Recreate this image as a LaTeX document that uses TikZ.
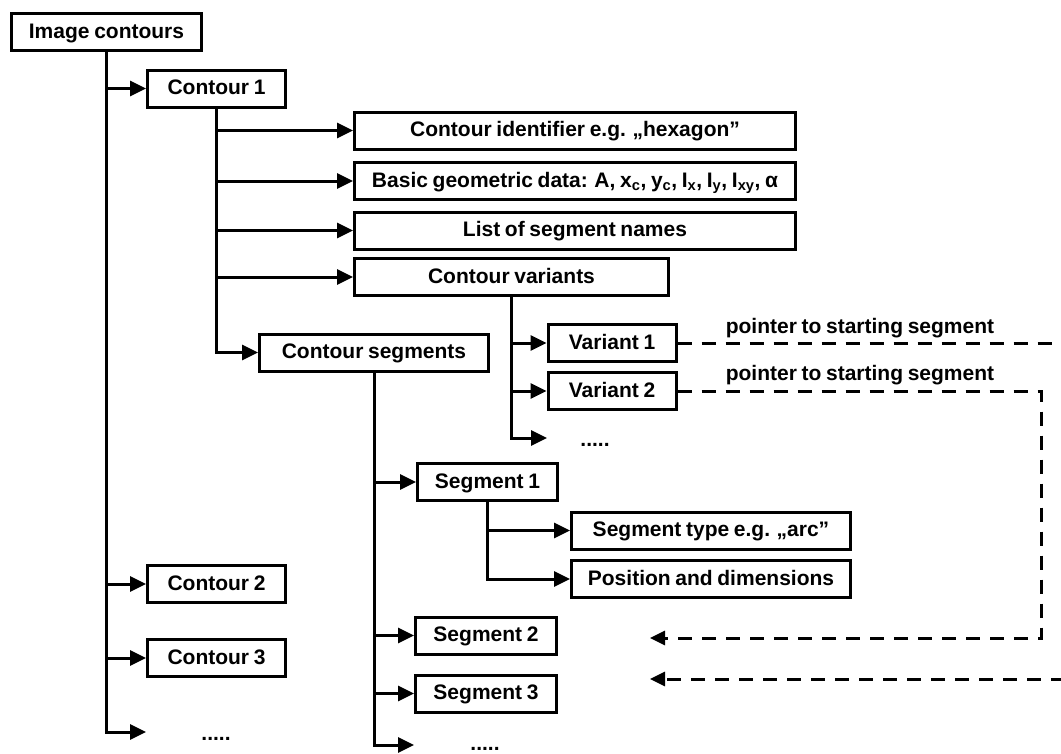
\documentclass[tikz,border=0pt]{standalone}
\usepackage{fontspec}
\setmainfont{Liberation Sans}[WordSpace=0.8]
\usetikzlibrary{arrows.meta}
\begin{document}
\begin{tikzpicture}[x=1pt,y=-1pt,
  box/.style={draw, line width=3pt, inner sep=0pt, minimum height=37pt,
    text height=14pt, text depth=2pt,
    font=\fontsize{21}{24}\selectfont\bfseries},
  lbl/.style={inner sep=0pt, font=\fontsize{21}{24}\selectfont\bfseries},
  link/.style={line width=3pt, -{Triangle[length=16pt,width=15pt]}},
  ptr/.style={line width=3pt, dash pattern=on 14pt off 10pt,
    -{Triangle[length=15pt,width=14pt]}},
]
\useasboundingbox (0,0) rectangle (1061,753);

% top level
\node[box, minimum width=190pt] (img) at (106.5,32) {Image contours};
\node[box, minimum width=138pt] (c1) at (216.5,88.5) {Contour 1};
\node[box, minimum width=138pt] (c2) at (216.5,584) {Contour 2};
\node[box, minimum width=138pt] (c3) at (216.5,658) {Contour 3};
\coordinate (dCend) at (146,732);
\node[lbl, anchor=base] (dC) at (216,740) {.....};

% contour data
\node[box, minimum width=441pt] (cid) at (575,130.5) {Contour identifier e.g. „hexagon”};
\node[box, minimum width=441pt] (bgd) at (575,181)
  {Basic geometric data: A, x\textsubscript{c}, y\textsubscript{c}, I\textsubscript{x}, I\textsubscript{y}, I\textsubscript{xy}, α};
\node[box, minimum width=441pt] (lsn) at (575,230.5) {List of segment names};
\node[box, minimum width=314pt] (cv) at (511.5,277) {Contour variants};
\node[box, minimum width=229pt] (cs) at (374,352.5) {Contour segments};

% variants
\node[box, minimum width=128pt] (v1) at (612,343) {Variant 1};
\node[box, minimum width=128pt] (v2) at (612,391) {Variant 2};
\coordinate (dVend) at (547,438);
\node[lbl, anchor=base] (dV) at (595,446) {.....};
\node[lbl, anchor=base] (l1) at (860,333) {pointer to starting segment};
\node[lbl, anchor=base] (l2) at (860,380) {pointer to starting segment};

% segments
\node[box, minimum width=140pt] (s1) at (487.5,482) {Segment 1};
\node[box, minimum width=279pt] (st) at (711,530.5) {Segment type e.g. „arc”};
\node[box, minimum width=279pt] (pd) at (711,579) {Position and dimensions};
\node[box, minimum width=141pt] (s2) at (486,635.5) {Segment 2};
\node[box, minimum width=141pt] (s3) at (486,693.5) {Segment 3};
\coordinate (dSend) at (414,745);
\node[lbl, anchor=base] (dS) at (485,750) {.....};

% tree connectors
\draw[link] (img.south |- c1.west) -- (c1.west);
\draw[link] (img.south |- c2.west) -- (c2.west);
\draw[link] (img.south |- c3.west) -- (c3.west);
\draw[link] (img.south) |- (dCend);

\draw[link] (c1.south |- cid.west) -- (cid.west);
\draw[link] (c1.south |- bgd.west) -- (bgd.west);
\draw[link] (c1.south |- lsn.west) -- (lsn.west);
\draw[link] (c1.south |- cv.west) -- (cv.west);
\draw[link] (c1.south) |- (cs.west);

\draw[link] (cv.south |- v1.west) -- (v1.west);
\draw[link] (cv.south |- v2.west) -- (v2.west);
\draw[link] (cv.south) |- (dVend);

\draw[link] (cs.south |- s1.west) -- (s1.west);
\draw[link] (cs.south |- s2.west) -- (s2.west);
\draw[link] (cs.south |- s3.west) -- (s3.west);
\draw[link] (cs.south) |- (dSend);

\draw[link] (s1.south |- st.west) -- (st.west);
\draw[link] (s1.south) |- (pd.west);

% pointers from variants to their starting segments
\coordinate (p1b) at (1063,679);
\coordinate (p1end) at (650,679);
\coordinate (p2b) at (1041,638);
\coordinate (p2end) at (650,638);
\draw[ptr] (v1.east) -| (p1b) -- (p1end);
\draw[ptr] (v2.east) -| (p2b) -- (p2end);
\end{tikzpicture}
\end{document}
